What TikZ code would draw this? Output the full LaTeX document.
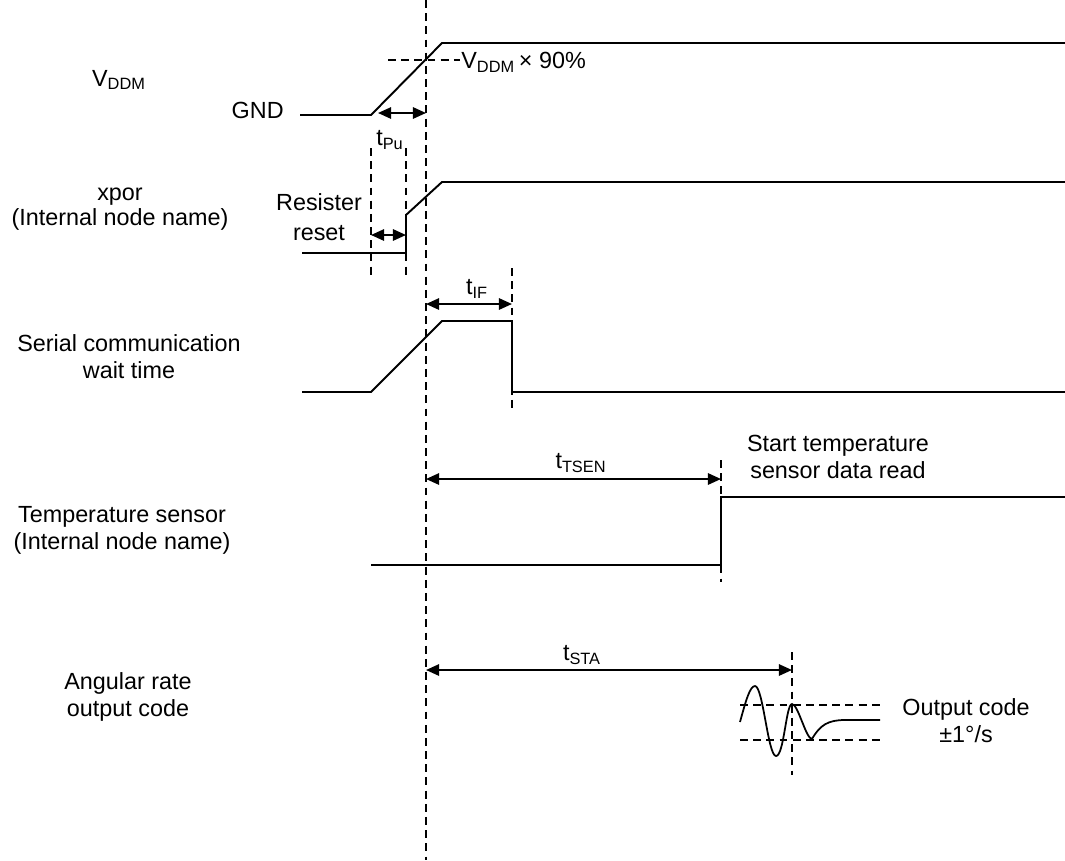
\documentclass[tikz,border=0pt]{standalone}
\usepackage{fontspec}
\setmainfont{Liberation Sans}
\usepackage{tikz}
\usetikzlibrary{arrows.meta}
\tikzset{
  signal/.style={line width=1.1pt, draw=black, line join=miter},
  guide/.style={line width=1.1pt, draw=black, dash pattern=on 4.5pt off 3pt},
  interval/.style={{Triangle[length=7.5pt,width=6.5pt]}-{Triangle[length=7.5pt,width=6.5pt]},
    line width=1.1pt, draw=black},
  signame/.style={font=\fontsize{13.3}{15.5}\selectfont, align=center, inner sep=0pt},
  note/.style={font=\fontsize{13.3}{15.5}\selectfont, align=center, inner sep=0pt}
}

\begin{document}
\begin{tikzpicture}[x=0.02cm, y=-0.02cm]
  \useasboundingbox (0,0) rectangle (1065,860);

  % Instant where V_DDM crosses 90%.
  \coordinate (ref top) at (426,0);
  \coordinate (ref bot) at (426,860);
  \draw[guide] (ref top) -- (ref bot);

  % V_DDM ramp.
  \node[signame] (vddm) at (119,80) {V\textsubscript{DDM}};
  \node[signame, anchor=east] (gnd) at (284,110) {GND};
  \draw[signal] (300,115) -- (371,115) -- (442,43) -- (1065,43);
  \draw[guide] (388,60) -- (460,60);
  \node[note, anchor=west] (ninety) at (461,62) {V\textsubscript{DDM}\,× 90\%};
  \coordinate (pu start) at (378,113);
  \coordinate (pu end) at (426,113);
  \draw[interval] (pu start) -- (pu end);
  \node[note] (tpu) at (390,140) {t\textsubscript{Pu}};

  % xpor.
  \node[signame] (xpor) at (120,209) {xpor\\[-1pt](Internal node name)};
  \coordinate (rst start) at (371,235);
  \coordinate (rst end) at (406,235);
  \draw[guide] (371,148) -- (371,275);
  \draw[guide] (406,148) -- (406,275);
  \draw[signal] (302,253) -- (406,253) -- (406,215) -- (442,182) -- (1065,182);
  \node[note] (rst) at (319,217) {Resister\\[1.5pt]reset};
  \draw[interval] (rst start) -- (rst end);

  % Serial communication wait time.
  \node[signame] (serial) at (129,357) {Serial communication\\wait time};
  \coordinate (if end) at (512,304);
  \draw[guide] (512,268) -- (512,410);
  \draw[signal] (302,392) -- (371,392) -- (442,321) -- (512,321) -- (512,392) -- (1065,392);
  \draw[interval] (ref top |- if end) -- (if end);
  \node[note] (tif) at (477,289) {t\textsubscript{IF}};

  % Temperature sensor.
  \node[signame] (tsens) at (122,530) {Temperature sensor\\(Internal node name)};
  \coordinate (tsen end) at (721,479);
  \draw[guide] (721,460) -- (721,582);
  \draw[signal] (371,565) -- (721,565) -- (721,497) -- (1065,497);
  \draw[interval] (ref top |- tsen end) -- (tsen end);
  \node[note] (ttsen) at (581,463) {t\textsubscript{TSEN}};
  \node[note] (tsread) at (838,457) {Start temperature\\sensor data read};

  % Angular rate output code.
  \node[signame] (angrate) at (128,697) {Angular rate\\output code};
  \coordinate (sta end) at (792,670);
  \draw[guide] (792,652) -- (792,775);
  \draw[interval] (ref top |- sta end) -- (sta end);
  \node[note] (tsta) at (582,655) {t\textsubscript{STA}};
  \draw[guide] (740,705) -- (880,705);
  \draw[guide] (740,740) -- (880,740);
  \draw[signal, line width=1pt] (740,722) .. controls (746,700) and (750,686) .. (755,686)
    .. controls (763,686) and (768,756) .. (776,756)
    .. controls (784,756) and (786,704) .. (792,704)
    .. controls (798,704) and (806,739) .. (812,739)
    .. controls (820,725) and (828,720) .. (845,720) -- (880,720);
  \node[note] (outcode) at (966,721) {Output code\\±1°/s};
\end{tikzpicture}
\end{document}
